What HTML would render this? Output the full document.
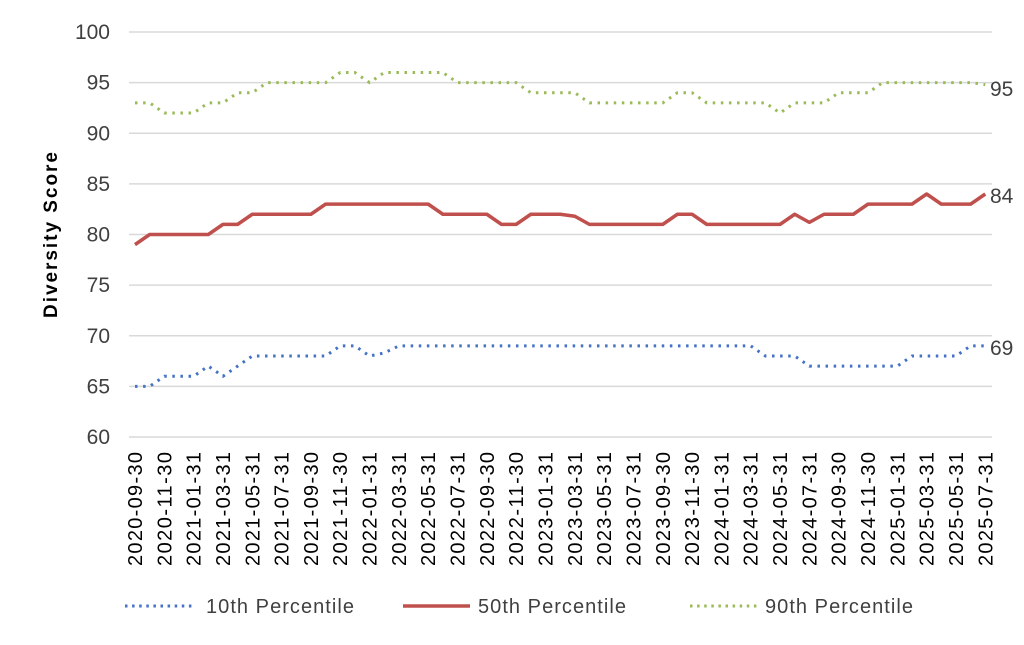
<!DOCTYPE html>
<html><head><meta charset="utf-8"><style>
html,body{margin:0;padding:0;background:#fff;}
svg{display:block;font-family:"Liberation Sans",Arial,sans-serif;}
</style></head><body>
<svg id="c" width="1024" height="645" xmlns="http://www.w3.org/2000/svg">
<g id="grid" stroke="#d9d9d9" stroke-width="1.5"></g>
<g id="yl" font-size="21" fill="#404040" text-anchor="end"></g>
<text x="57" y="235" font-size="19" font-weight="bold" fill="#000" text-anchor="middle" textLength="166" transform="rotate(-90 57 235)">Diversity  Score</text>
<g id="xl" font-size="20" fill="#000"></g>
<g id="series"></g>
<g font-size="21" fill="#404040">
<text x="990" y="96">95</text>
<text x="990" y="203">84</text>
<text x="990" y="355">69</text>
</g>
<g font-size="20" fill="#404040">
<line x1="125" y1="606" x2="195" y2="606" stroke="#4472c4" stroke-width="3" stroke-dasharray="2.5 4.6"/>
<text x="206" y="613" textLength="148">10th Percentile</text>
<line x1="403" y1="606" x2="470" y2="606" stroke="#c0504d" stroke-width="3.5"/>
<text x="478" y="613" textLength="148">50th Percentile</text>
<line x1="690" y1="606" x2="757" y2="606" stroke="#9bbb59" stroke-width="3" stroke-dasharray="2.5 4.6"/>
<text x="765" y="613" textLength="148">90th Percentile</text>
</g>
</svg>
<script>
var NS="http://www.w3.org/2000/svg";
function Y(v){return 437-(v-60)*10.125;}
function X(i){return 135+i*14.66;}
var g=document.getElementById('grid'),yl=document.getElementById('yl');
for(var v=60;v<=100;v+=5){
 var l=document.createElementNS(NS,'line');l.setAttribute('x1',129);l.setAttribute('x2',992);l.setAttribute('y1',Y(v));l.setAttribute('y2',Y(v));g.appendChild(l);
 var t=document.createElementNS(NS,'text');t.setAttribute('x',110);t.setAttribute('y',Y(v)+7);t.textContent=v;yl.appendChild(t);
}
var xl=document.getElementById('xl');
for(var i=0;i<59;i+=2){
 var m=8+i, yr=2020+Math.floor(m/12), mo=m%12+1;
 var days=[31,28,31,30,31,30,31,31,30,31,30,31][mo-1];
 var s=yr+'-'+(mo<10?'0':'')+mo+'-'+days;
 var t=document.createElementNS(NS,'text');var x=X(i)+7;
 t.setAttribute('transform','translate('+x+',566) rotate(-90)');t.setAttribute('textLength','114');t.textContent=s;xl.appendChild(t);
}
function arr(spec){var a=[];spec.forEach(function(p){for(var k=0;k<p[1];k++)a.push(p[0]);});return a;}
var p50=arr([[79,1],[80,5],[81,2],[82,5],[83,8],[82,4],[81,2],[82,3],[81.8,1],[81,6],[82,2],[81,6],[82,1],[81.2,1],[82,3],[83,4],[84,1],[83,3],[84,1]]);
var p90=arr([[93,2],[92,3],[93,2],[94,2],[95,5],[96,2],[95,1],[96,5],[95,5],[94,4],[93,6],[94,2],[93,5],[92,1],[93,3],[94,3],[95,7],[94.8,1]]);
var p10=arr([[65,2],[66,3],[67,1],[66,1],[67,1],[68,6],[69,2],[68,1],[68.3,1],[69,25],[68,3],[67,7],[68,4],[69,2]]);
var se=document.getElementById('series');
function draw(d,col,w,dash){
 var pl=document.createElementNS(NS,'polyline');
 pl.setAttribute('points',d.map(function(v,i){return X(i)+','+Y(v);}).join(' '));
 pl.setAttribute('fill','none');pl.setAttribute('stroke',col);pl.setAttribute('stroke-width',w);
 pl.setAttribute('stroke-linejoin','round');
 if(dash){pl.setAttribute('stroke-dasharray',dash);}
 se.appendChild(pl);
}
draw(p10,'#4472c4',3,'2.5 5.6');
draw(p90,'#9bbb59',3,'2.5 5.6');
draw(p50,'#c0504d',3.5,null);
</script>
</body></html>
